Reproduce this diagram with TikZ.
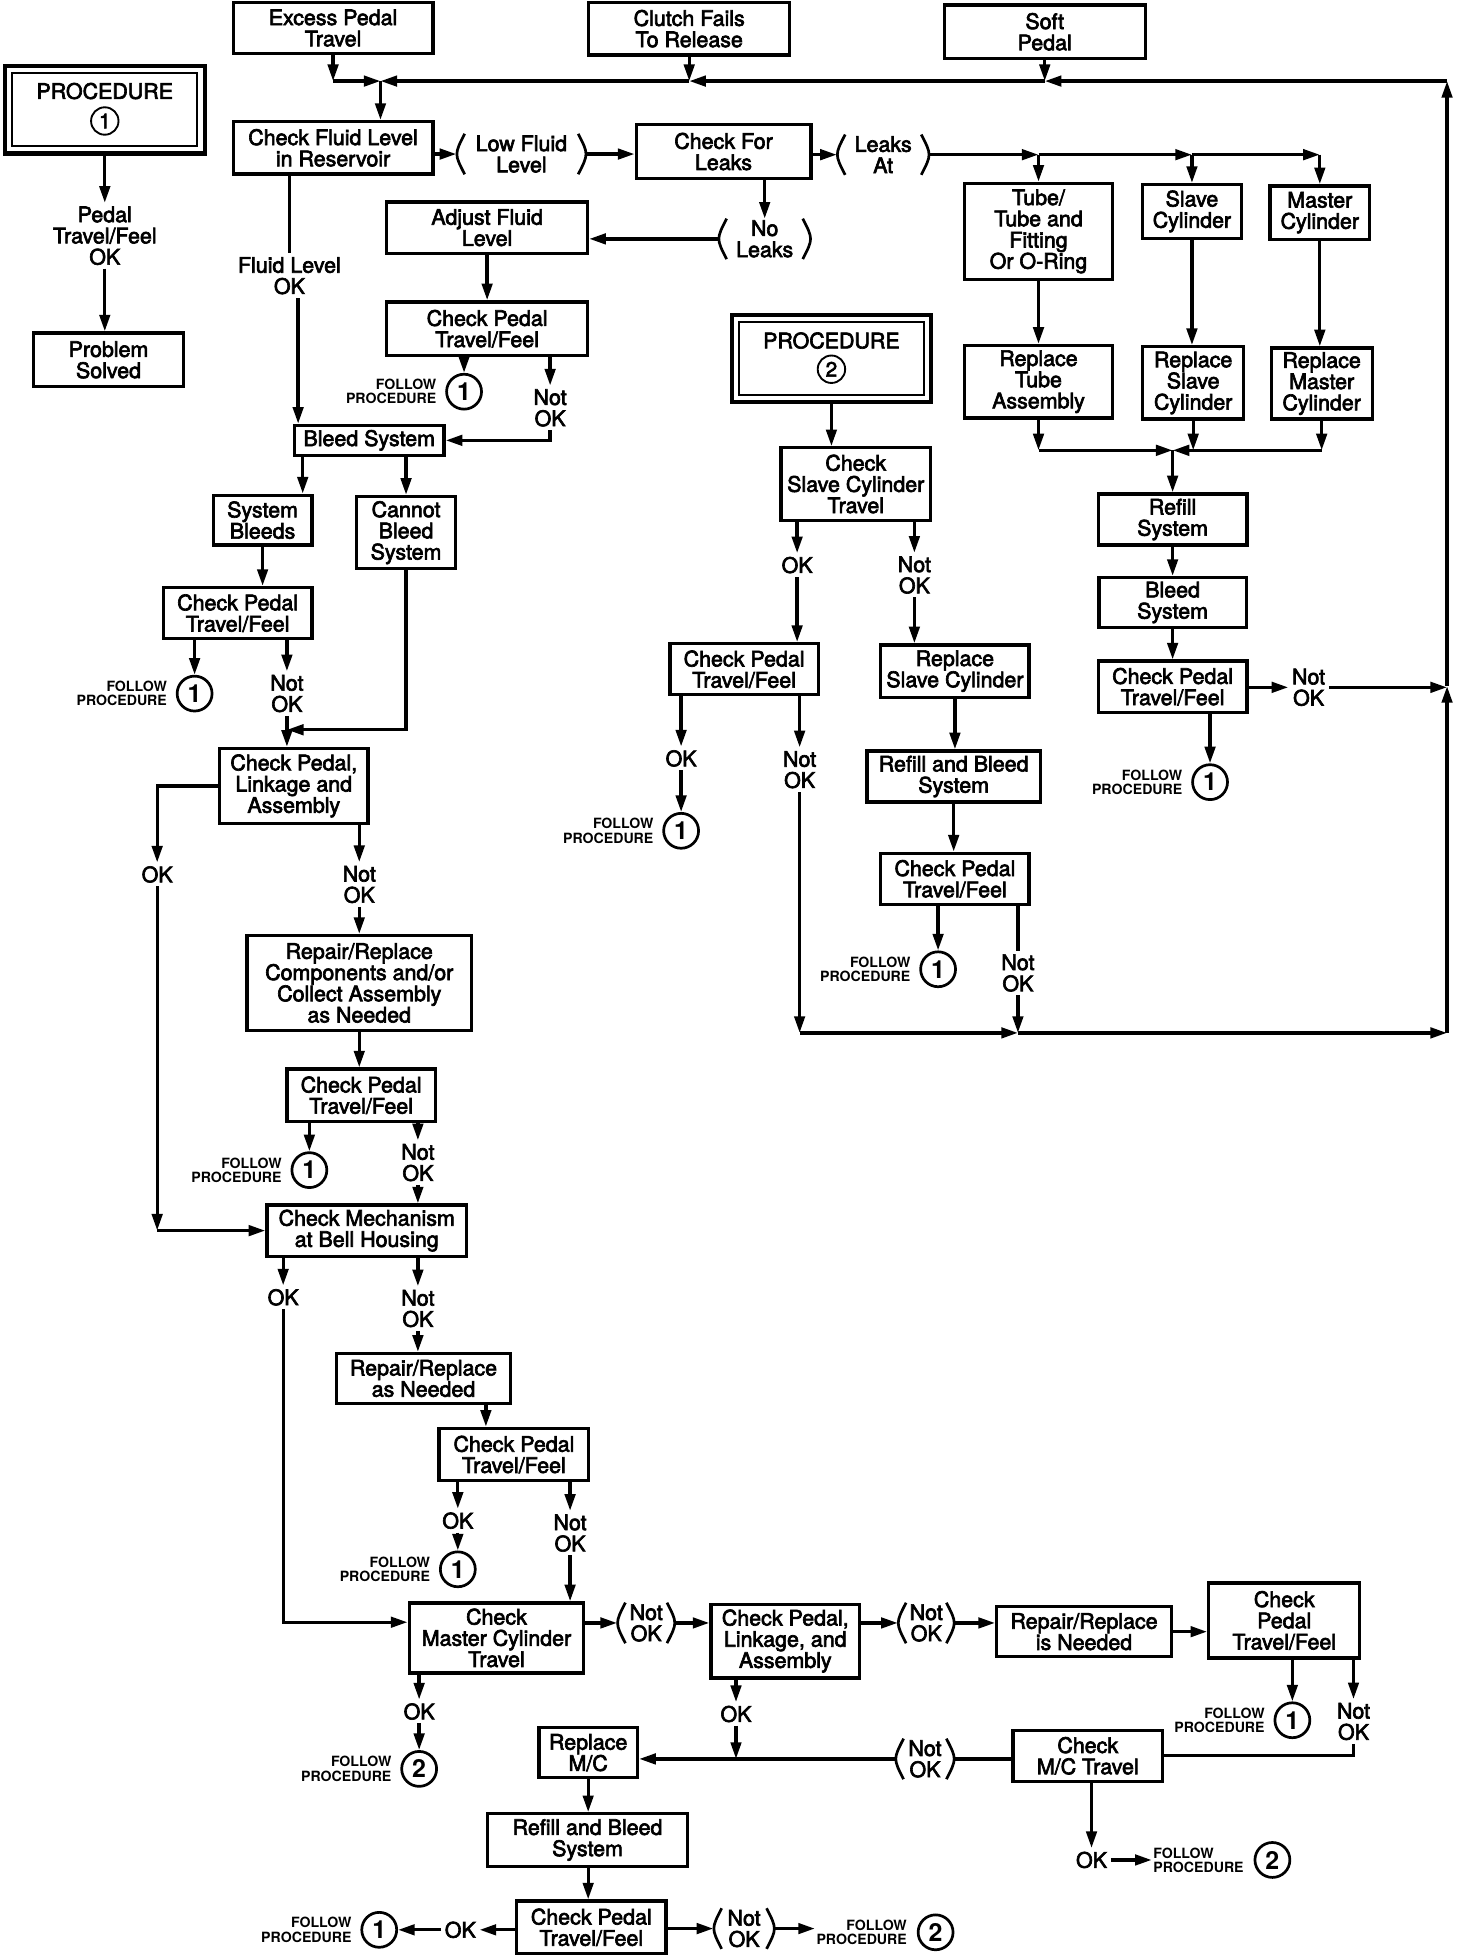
\documentclass[tikz,border=0pt]{standalone}
\usepackage{fontspec}
\setmainfont{TeX Gyre Heros}[UprightFeatures={FakeBold=3}]
\usetikzlibrary{positioning,arrows.meta}

\newcommand\boxfont{\fontsize{10.3}{10.2}\selectfont}
\newcommand\drawparens[1]{%
  \draw[parenline] ([xshift=4pt]#1.north west) .. controls ([xshift=-1pt]#1.west) .. ([xshift=4pt]#1.south west);
  \draw[parenline] ([xshift=-4pt]#1.north east) .. controls ([xshift=1pt]#1.east) .. ([xshift=-4pt]#1.south east);}

\begin{document}
\begin{tikzpicture}[
  x=0.6pt, y=-0.6pt, line width=1.6pt,
  >={Triangle[length=8pt,width=5pt]},
  box/.style 2 args={draw, align=center, inner sep=1pt, font=\boxfont,
    minimum width=#1, minimum height=#2},
  procbox/.style={draw, line width=2pt, minimum width=96pt, minimum height=42pt,
    path picture={\draw[line width=0.9pt]
      ([shift={(3.5pt,-3.5pt)}]path picture bounding box.north west) rectangle
      ([shift={(-3.5pt,3.5pt)}]path picture bounding box.south east);}},
  lbl/.style={align=center, inner sep=1pt, font=\boxfont},
  parlbl/.style={lbl, inner ysep=0pt, minimum width=#1},
  parenline/.style={line width=1.3pt},
  follow/.style={align=right, inner sep=0pt, font=\bfseries\fontsize{6.8}{6.8}\selectfont},
  procnum/.style={circle, draw, line width=1.3pt, minimum size=16.8pt, inner sep=0pt,
    font=\bfseries\fontsize{12}{12}\selectfont},
  boxnum/.style={circle, draw, line width=0.9pt, minimum size=13.2pt, inner sep=0pt,
    font=\fontsize{10}{10}\selectfont}
]
\useasboundingbox (0,0) rectangle (1180,1568);

% Entry conditions
\node[box={96pt}{24.6pt}] (excess) at (267,22.5) {Excess Pedal\\Travel};
\node[box={96.6pt}{25.2pt}] (clutch) at (552.5,23) {Clutch Fails\\To Release};
\node[box={96.6pt}{25.8pt}] (soft) at (837.5,25.5) {Soft\\Pedal};

% Procedure 1
\node[procbox] (proc1) at (84,88) {};
\node[lbl] (proc1t) at (84,73) {PROCEDURE};
\node[boxnum] (proc1n) at (84,97) {1};
\node[lbl] (pedalok) at (84,189) {Pedal\\Travel/Feel\\OK};
\node[box={72pt}{25.8pt}] (solved) at (87,288.5) {Problem\\Solved};

% Fluid level and leaks
\node[box={96pt}{25.2pt}] (checkfluid) at (267,118.5) {Check Fluid Level\\in Reservoir};
\node[parlbl=61pt] (lowfluid) at (418,123.5) {Low Fluid\\Level};
\node[box={84pt}{25.8pt}] (leaks) at (580,121.5) {Check For\\Leaks};
\node[parlbl=43pt] (leaksat) at (708,124) {Leaks\\At};
\node[parlbl=43pt] (noleaks) at (613,191.5) {No\\Leaks};
\node[box={96.6pt}{24.6pt}] (adjust) at (390.5,182.5) {Adjust Fluid\\Level};
\node[box={96.6pt}{25.8pt}] (cpt1) at (390.5,263.5) {Check Pedal\\Travel/Feel};
\node[procnum] (c1a) at (372,314) {1};
\node[follow, left=3.5pt of c1a] (f1a) {FOLLOW\\PROCEDURE};
\node[lbl] (notok1) at (441,327) {Not\\OK};
\node[lbl] (fluidok) at (232,221) {Fluid Level\\OK};

% Bleed branch
\node[box={72pt}{14.4pt}] (bleed) at (296,353) {Bleed System};
\node[box={47.4pt}{24pt}] (sysbleeds) at (210.5,417) {System\\Bleeds};
\node[box={47.4pt}{34.8pt}] (cannot) at (325.5,427) {Cannot\\Bleed\\System};
\node[box={71.4pt}{24.6pt}] (cpt2) at (190.5,491.5) {Check Pedal\\Travel/Feel};
\node[procnum] (c1b) at (156,556) {1};
\node[follow, left=3.5pt of c1b] (f1b) {FOLLOW\\PROCEDURE};
\node[lbl] (notok2) at (230,556) {Not\\OK};
\coordinate (jBleed) at (230,585);

% Linkage branch
\node[box={71.4pt}{36pt}] (linkage1) at (235.5,630) {Check Pedal,\\Linkage and\\Assembly};
\node[lbl] (ok3) at (126,701) {OK};
\node[lbl] (notok3) at (288,709) {Not\\OK};
\node[box={108pt}{45.6pt}] (repair1) at (288,788) {Repair/Replace\\Components and/or\\Collect Assembly\\as Needed};
\node[box={71.4pt}{25.2pt}] (cpt3) at (289.5,878) {Check Pedal\\Travel/Feel};
\node[procnum] (c1c) at (248,938) {1};
\node[follow, left=3.5pt of c1c] (f1c) {FOLLOW\\PROCEDURE};
\node[lbl] (notok4) at (335,932) {Not\\OK};

% Bell housing
\node[box={96pt}{24.6pt}] (mech) at (294,986.5) {Check Mechanism\\at Bell Housing};
\node[lbl] (ok5) at (227,1040) {OK};
\node[lbl] (notok5) at (335,1049) {Not\\OK};
\node[box={83.4pt}{24pt}] (repair2) at (339.5,1105) {Repair/Replace\\as Needed};
\node[box={72pt}{25.2pt}] (cpt4) at (412,1166) {Check Pedal\\Travel/Feel};
\node[lbl] (ok6) at (367,1219) {OK};
\node[procnum] (c1d) at (367,1258) {1};
\node[follow, left=3.5pt of c1d] (f1d) {FOLLOW\\PROCEDURE};
\node[lbl] (notok6) at (457,1229) {Not\\OK};

% Master cylinder
\node[box={84pt}{33.6pt}] (mastertravel) at (398,1313) {Check\\Master Cylinder\\Travel};
\node[parlbl=26.4pt] (notok7) at (518,1301) {Not\\OK};
\node[box={71.4pt}{35.4pt}] (linkage2) at (629.5,1315.5) {Check Pedal,\\Linkage, and\\Assembly};
\node[parlbl=25.8pt] (notok8) at (742.5,1301) {Not\\OK};
\node[box={84pt}{24pt}] (repair3) at (869,1308) {Repair/Replace\\is Needed};
\node[box={72.6pt}{36pt}] (cpt5) at (1029.5,1299) {Check\\Pedal\\Travel/Feel};
\node[procnum] (c1e) at (1036,1379) {1};
\node[follow, left=3.5pt of c1e] (f1e) {FOLLOW\\PROCEDURE};
\node[lbl] (notok9) at (1085,1380) {Not\\OK};
\node[box={72pt}{24.6pt}] (mctravel) at (872,1407.5) {Check\\M/C Travel};
\node[parlbl=27pt] (notok10) at (741.5,1410) {Not\\OK};
\node[lbl] (ok11) at (590,1374) {OK};
\node[lbl] (ok12) at (336,1372) {OK};
\node[procnum] (c2a) at (336,1418) {2};
\node[follow, left=3.5pt of c2a] (f2a) {FOLLOW\\PROCEDURE};
\node[lbl] (ok15) at (875,1491) {OK};
\node[procnum] (c2c) at (1020,1491) {2};
\node[follow, align=left, left=4pt of c2c] (f2c) {FOLLOW\\PROCEDURE};

% Replace master cylinder
\node[box={47.4pt}{24pt}] (replmc) at (471.5,1405) {Replace\\M/C};
\node[box={96pt}{25.2pt}] (refill2) at (471,1475) {Refill and Bleed\\System};
\node[box={72pt}{25.2pt}] (cpt6) at (474,1545) {Check Pedal\\Travel/Feel};
\node[lbl] (ok13) at (369,1547) {OK};
\node[procnum] (c1f) at (304,1547) {1};
\node[follow, left=3.5pt of c1f] (f1f) {FOLLOW\\PROCEDURE};
\node[parlbl=28pt] (notok14) at (596.5,1546) {Not\\OK};
\node[procnum] (c2d) at (750,1549) {2};
\node[follow, left=4pt of c2d] (f2d) {FOLLOW\\PROCEDURE};

% Procedure 2
\node[procbox] (proc2) at (666.5,287.5) {};
\node[lbl] (proc2t) at (666.5,273) {PROCEDURE};
\node[boxnum] (proc2n) at (666.5,296) {2};
\node[box={72pt}{34.8pt}] (slavetravel) at (686,388) {Check\\Slave Cylinder\\Travel};
\node[lbl] (ok16) at (639,453) {OK};
\node[lbl] (notok16) at (733,461) {Not\\OK};
\node[box={71.4pt}{24.6pt}] (cpt7) at (596.5,536.5) {Check Pedal\\Travel/Feel};
\node[lbl] (ok17) at (546,608) {OK};
\node[procnum] (c1g) at (546,666) {1};
\node[follow, left=3.5pt of c1g] (f1g) {FOLLOW\\PROCEDURE};
\node[lbl] (notok17) at (641,617) {Not\\OK};
\node[box={71.4pt}{25.2pt}] (replslave2) at (765.5,538) {Replace\\Slave Cylinder};
\node[box={83.4pt}{24.6pt}] (refill1) at (764.5,622.5) {Refill and Bleed\\System};
\node[box={71.4pt}{24.6pt}] (cpt8) at (765.5,704.5) {Check Pedal\\Travel/Feel};
\node[procnum] (c1h) at (752,777) {1};
\node[follow, left=3.5pt of c1h] (f1h) {FOLLOW\\PROCEDURE};
\node[lbl] (notok18) at (816,780) {Not\\OK};

% Leak repairs
\node[box={71.4pt}{46.2pt}] (tube) at (832.5,185.5) {Tube/\\Tube and\\Fitting\\Or O-Ring};
\node[box={47.4pt}{25.8pt}] (slave) at (955.5,169.5) {Slave\\Cylinder};
\node[box={48pt}{25.8pt}] (master) at (1058,170.5) {Master\\Cylinder};
\node[box={71.4pt}{34.8pt}] (repltube) at (832.5,306) {Replace\\Tube\\Assembly};
\node[box={48.6pt}{34.8pt}] (replslave) at (956.5,307) {Replace\\Slave\\Cylinder};
\node[box={48.6pt}{34.2pt}] (replmaster) at (1059.5,307.5) {Replace\\Master\\Cylinder};
\coordinate (jRefill) at (940,361);
\node[box={71.4pt}{24.6pt}] (refillsys) at (940,416.5) {Refill\\System};
\node[box={70.8pt}{24pt}] (bleed2) at (940,483) {Bleed\\System};
\node[box={71.4pt}{24.6pt}] (cpt9) at (940,550.5) {Check Pedal\\Travel/Feel};
\node[lbl] (notok19) at (1049,551) {Not\\OK};
\node[procnum] (c1i) at (970,627) {1};
\node[follow, left=3.5pt of c1i] (f1i) {FOLLOW\\PROCEDURE};

% Return line corners
\coordinate (jIn) at (305,65);
\coordinate (cR) at (1160,65);
\coordinate (cM) at (1160,550);
\coordinate (cB) at (1160,828);

% Parentheses round the answers
\foreach \p in {lowfluid,leaksat,noleaks,notok7,notok8,notok10,notok14}
  \drawparens{\p};

% Entry arrows
\draw[->] (excess.south) -- (excess.south |- jIn);
\draw[->] (excess.south |- jIn) -- (jIn);
\draw[->] (clutch.south) -- (clutch.south |- jIn);
\draw[->] (soft.south) -- (soft.south |- jIn);
\draw[->] (cR) -- (soft.south |- jIn);
\draw[->] (soft.south |- jIn) -- (clutch.south |- jIn);
\draw[->] (clutch.south |- jIn) -- (jIn);
\draw[->] (jIn) -- (jIn |- checkfluid.north);

% Procedure 1 arrows
\draw[->] (proc1.south) -- (pedalok.north);
\draw[->] (pedalok.south) -- (pedalok.south |- solved.north);

% Fluid level arrows
\draw[->] (lowfluid.west -| checkfluid.east) -- (lowfluid.west);
\draw[->] (lowfluid.east) -- (lowfluid.east -| leaks.west);
\draw[->] (leaksat.west -| leaks.east) -- (leaksat.west);
\draw[->] (leaksat.east) -- (leaksat.east -| tube);
\draw[->] (leaksat.east -| tube) -- (leaksat.east -| slave);
\draw[->] (leaksat.east -| slave) -- (leaksat.east -| master);
\foreach \b in {tube,slave,master}
  \draw[->] (leaksat.east -| \b) -- (\b.north);
\draw[->] (noleaks |- leaks.south) -- (noleaks.north);
\draw[->] (noleaks.west) -- (noleaks.west -| adjust.east);
\draw[->] (adjust.south) -- (cpt1.north);
\draw[->] (cpt1.south -| c1a) -- (c1a.north);
\draw[->] (cpt1.south -| notok1) -- (notok1.north);
\draw[->] (notok1.south) |- (bleed.east);
\draw (checkfluid.south -| fluidok) -- (fluidok.north);
\draw[->] (fluidok.south) ++(7,0) coordinate (t) -- (t |- bleed.north);

% Bleed arrows
\draw[->] (bleed.south west) ++(8,0) coordinate (t) -- (t |- sysbleeds.north);
\draw[->] (cannot.north |- bleed.south) -- (cannot.north);
\draw[->] (sysbleeds.south) -- (sysbleeds.south |- cpt2.north);
\draw[->] (cpt2.south -| c1b) -- (c1b.north);
\draw[->] (cpt2.south -| notok2) -- (notok2.north);
\draw[->] (notok2.south) -- (notok2.south |- linkage1.north);
\draw[->] (cannot.south) |- (jBleed);

% Linkage arrows
\draw[->] (linkage1.west) -| (ok3.north);
\draw[->] (ok3.south) -- (ok3.south |- mech.west);
\draw[->] (ok3.south |- mech.west) -- (mech.west);
\draw[->] (linkage1.south -| notok3) -- (notok3.north);
\draw[->] (notok3.south) -- (notok3.south |- repair1.north);
\draw[->] (repair1.south) -- (repair1.south |- cpt3.north);
\draw[->] (cpt3.south -| c1c) -- (c1c.north);
\draw[->] (cpt3.south -| notok4) -- (notok4.north);
\draw[->] (notok4.south) -- (notok4.south |- mech.north);

% Bell housing arrows
\draw[->] (mech.south -| ok5) -- (ok5.north);
\draw[->] (ok5.south) |- (mastertravel.170);
\draw[->] (mech.south -| notok5) -- (notok5.north);
\draw[->] (notok5.south) -- (notok5.south |- repair2.north);
\draw[->] (repair2.south) ++(50,0) coordinate (t) -- (t |- cpt4.north);
\draw[->] (cpt4.south -| ok6) -- (ok6.north);
\draw[->] (ok6.south) -- (c1d.north);
\draw[->] (cpt4.south -| notok6) -- (notok6.north);
\draw[->] (notok6.south) -- (notok6.south |- mastertravel.north);

% Master cylinder arrows
\draw[->] (notok7.west -| mastertravel.east) -- (notok7.west);
\draw[->] (notok7.east) -- (notok7.east -| linkage2.west);
\draw[->] (notok8.west -| linkage2.east) -- (notok8.west);
\draw[->] (notok8.east) -- (notok8.east -| repair3.west);
\draw[->] (repair3.east) -- (repair3.east -| cpt5.west);
\draw[->] (cpt5.south -| c1e) -- (c1e.north);
\draw[->] (cpt5.south -| notok9) -- (notok9.north);
\draw (notok9.south) |- (mctravel.east);
\draw[->] (linkage2.south -| ok11) -- (ok11.north);
\draw[->] (ok11.south) -- (ok11.south |- notok10.west);
\draw (notok10.east) -- (notok10.east -| mctravel.west);
\draw[->] (notok10.west) -- (notok10.west -| replmc.east);
\draw[->] (mastertravel.south -| ok12) -- (ok12.north);
\draw[->] (ok12.south) -- (c2a.north);
\draw[->] (mctravel.south -| ok15) -- (ok15.north);
\draw[->] (ok15.east) -- (ok15.east -| f2c.west);

% Replace master cylinder arrows
\draw[->] (replmc.south) -- (replmc.south |- refill2.north);
\draw[->] (refill2.south -| replmc) -- (replmc |- cpt6.north);
\draw[->] (ok13.east -| cpt6.west) -- (ok13.east);
\draw[->] (ok13.west) -- (ok13.west -| c1f.east);
\draw[->] (notok14.west -| cpt6.east) -- (notok14.west);
\draw[->] (notok14.east) -- (notok14.east -| f2d.west);

% Procedure 2 arrows
\draw[->] (proc2.south) -- (proc2.south |- slavetravel.north);
\draw[->] (slavetravel.south -| ok16) -- (ok16.north);
\draw[->] (ok16.south) -- (ok16.south |- cpt7.north);
\draw[->] (slavetravel.south -| notok16) -- (notok16.north);
\draw[->] (notok16.south) -- (notok16.south |- replslave2.north);
\draw[->] (cpt7.south -| ok17) -- (ok17.north);
\draw[->] (ok17.south) -- (c1g.north);
\draw[->] (cpt7.south -| notok17) -- (notok17.north);
\draw[->] (notok17.south) -- (notok17.south |- cB);
\draw[->] (notok17.south |- cB) -- (notok18.south |- cB);
\draw[->] (notok18.south |- cB) -- (cB);
\draw[->] (replslave2.south) -- (replslave2.south |- refill1.north);
\draw[->] (refill1.south) -- (refill1.south |- cpt8.north);
\draw[->] (cpt8.south -| c1h) -- (c1h.north);
\draw (cpt8.south -| notok18) -- (notok18.north);
\draw[->] (notok18.south) -- (notok18.south |- cB);

% Leak repair arrows
\draw[->] (tube.south) -- (repltube.north);
\draw[->] (slave.south) -- (slave.south |- replslave.north);
\draw[->] (master.south) -- (master.south |- replmaster.north);
\draw[->] (repltube.south) -- (repltube.south |- jRefill);
\draw[->] (repltube.south |- jRefill) -- (jRefill);
\draw[->] (replslave.south) -- (replslave.south |- jRefill);
\draw[->] (replmaster.south) -- (replmaster.south |- jRefill);
\draw[->] (replmaster.south |- jRefill) -- (jRefill);
\draw[->] (jRefill) -- (jRefill |- refillsys.north);
\draw[->] (refillsys.south) -- (bleed2.north);
\draw[->] (bleed2.south) -- (cpt9.north);
\draw[->] (notok19.west -| cpt9.east) -- (notok19.west);
\draw[->] (notok19.east) -- (notok19.east -| cM);
\draw[->] (cpt9.south -| c1i) -- (c1i.north);

% Return line
\draw[->] (cB) -- (cM);
\draw[->] (cM) -- (cR);

\end{tikzpicture}
\end{document}
